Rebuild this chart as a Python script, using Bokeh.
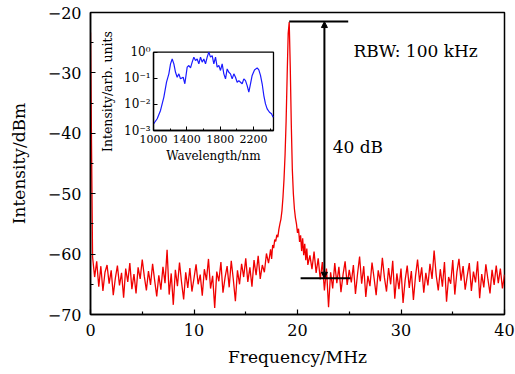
import numpy as np
from bokeh.plotting import figure
from bokeh.models import (Range1d, LinearAxis, LogAxis, LogScale, FixedTicker,
                          Arrow, NormalHead, Label)
from bokeh.embed import file_html
from bokeh.resources import INLINE

# ---------------- data ----------------
# RF spectrum, segment 1: 0.0 .. 17.2 MHz, step 0.2 MHz
rf_left_start, rf_left_step = 0.0, 0.2
rf_left_db = [
    -23.3, -60.5, -63.8, -61.2, -65.4, -62.0, -66.1, -63.0, -61.8, -64.9,
    -62.7, -66.8, -64.0, -61.9, -65.2, -63.1, -67.2, -62.4, -64.6, -61.5,
    -65.8, -63.3, -66.5, -62.2, -64.1, -60.9, -63.7, -66.0, -62.8, -65.1,
    -61.6, -64.4, -67.0, -63.5, -65.9, -62.1, -64.8, -59.3, -66.7, -63.2,
    -68.4, -62.6, -65.3, -61.4, -64.7, -67.5, -63.0, -65.6, -62.3, -66.2,
    -64.0, -61.7, -65.0, -63.4, -66.9, -62.5, -64.3, -60.8, -65.7, -63.6,
    -68.9, -62.9, -64.5, -61.3, -66.4, -63.9, -62.0, -65.5, -61.1, -64.2,
    -67.8, -62.7, -65.0, -61.6, -63.8, -60.7, -64.6, -62.2, -65.4, -61.0,
    -63.5, -60.3, -64.1, -61.8, -63.0, -59.9, -61.5,
]
# segment 2 (beat note peak): from 17.3 MHz, step 0.1 MHz
rf_peak_start, rf_peak_step = 17.3, 0.1
rf_peak_db = [
    -60.4, -59.2, -60.8, -58.5, -59.0, -57.6, -57.9, -56.8, -57.2, -55.9,
    -55.0, -54.2, -52.8, -50.5, -47.5, -43.5, -38.0, -30.5, -23.5, -21.6,
    -29.0, -38.5, -46.0, -50.0, -52.5, -54.0, -55.0, -56.5, -55.8, -58.0,
    -56.9, -59.5, -57.4, -60.2, -58.3, -61.0, -59.1, -61.8,
]
# segment 3: from 21.2 MHz to 40 MHz, step 0.2 MHz
rf_right_start, rf_right_step = 21.2, 0.2
rf_right_db = [
    -60.2, -62.5, -59.6, -63.1, -60.7, -64.2, -61.3, -66.0, -62.4, -68.8,
    -63.0, -65.7, -61.5, -64.8, -62.1, -66.3, -63.4, -61.2, -65.1, -62.6,
    -64.7, -61.8, -66.6, -63.3, -60.4, -64.9, -62.0, -67.1, -63.6, -65.3,
    -61.4, -64.0, -66.8, -62.7, -64.5, -60.6, -63.9, -66.2, -62.3, -65.0,
    -61.1, -67.4, -63.2, -65.8, -62.4, -68.1, -64.3, -61.9, -65.6, -62.8,
    -67.6, -63.7, -60.9, -64.6, -62.2, -66.4, -63.1, -65.2, -61.6, -64.1,
    -59.4, -63.5, -66.0, -62.5, -65.4, -61.3, -67.9, -63.8, -64.9, -61.0,
    -66.7, -63.0, -60.8, -64.4, -62.0, -65.9, -63.6, -61.5, -66.1, -62.9,
    -64.7, -61.2, -67.3, -63.3, -65.5, -61.7, -64.2, -66.5, -62.6, -65.1,
    -61.9, -64.8, -62.4, -65.7, -63.4,
]

# optical spectrum (inset): wavelength (nm) and log10(intensity)
spec_nm = [1000, 1044, 1084, 1124, 1156, 1184, 1204, 1224, 1244, 1264,
           1284, 1304, 1324, 1356, 1376, 1404, 1424, 1444, 1464, 1484,
           1504, 1524, 1544, 1564, 1584, 1604, 1624, 1644, 1664, 1684,
           1704, 1724, 1744, 1764, 1784, 1804, 1824, 1844, 1864, 1884,
           1904, 1924, 1944, 1964, 1984, 2004, 2024, 2044, 2064, 2084,
           2104, 2124, 2144, 2164, 2184, 2212, 2244, 2264, 2284, 2304,
           2324, 2344, 2364, 2392, 2416, 2436]
spec_log10 = [-2.75, -2.55, -2.23, -1.72, -1.15, -0.83, -0.45, -0.26, -0.45, -0.77,
              -0.96, -0.83, -1.02, -0.96, -1.21, -0.57, -0.51, -0.60, -0.38, -0.19,
              -0.32, -0.26, -0.45, -0.19, -0.38, -0.26, -0.45, -0.19, 0.00, -0.19,
              -0.13, -0.45, -0.19, -0.57, -0.51, -0.70, -0.45, -0.83, -1.02, -0.64,
              -0.77, -0.83, -1.02, -0.83, -0.96, -1.15, -1.09, -1.15, -1.21, -1.02,
              -1.09, -1.28, -1.53, -1.21, -0.89, -0.68, -0.60, -0.68, -0.89, -1.21,
              -1.66, -1.98, -2.17, -2.30, -2.36, -2.49]

x_ticks = [0, 10, 20, 30, 40]
x_minor = [5, 15, 25, 35]
y_ticks = [-70, -60, -50, -40, -30, -20]
y_minor = [-65, -55, -45, -35, -25]
inset_x_ticks = [1000, 1400, 1800, 2200]
inset_x_minor = [1200, 1600, 2000, 2400]
inset_y_ticks = [1e-3, 1e-2, 1e-1, 1e0]
inset_y_labels = ["10\u207b\u00b3", "10\u207b\u00b2", "10\u207b\u00b9", "10\u2070"]

peak_db = -21.5
floor_db = -64.0
rbw_text = "RBW: 100 kHz"
diff_text = "40 dB"

# ---------------- build series ----------------
f1 = rf_left_start + rf_left_step * np.arange(len(rf_left_db))
f2 = rf_peak_start + rf_peak_step * np.arange(len(rf_peak_db))
f3 = rf_right_start + rf_right_step * np.arange(len(rf_right_db))
freq = np.concatenate([f1, f2, f3])
power = np.concatenate([rf_left_db, rf_peak_db, rf_right_db])
spec = np.power(10.0, np.array(spec_log10))

FONT = "DejaVu Serif"

p = figure(width=515, height=374, output_backend="svg", toolbar_location=None,
           x_range=Range1d(0, 40), y_range=Range1d(-70, -20),
           x_axis_type=None, y_axis_type=None,
           min_border_left=90, min_border_right=11,
           min_border_top=12, min_border_bottom=60)
p.grid.visible = False
p.outline_line_color = "black"
p.outline_line_width = 1.5
p.background_fill_color = "white"
p.border_fill_color = "white"

def style_axis(ax, size_lab="16px", size_title="17px", tick_in=5, minor_in=3, lw=1.5):
    ax.axis_line_width = lw
    ax.major_tick_in = tick_in
    ax.major_tick_out = 0
    ax.minor_tick_in = minor_in
    ax.minor_tick_out = 0
    ax.major_tick_line_width = lw * 0.8
    ax.minor_tick_line_width = lw * 0.8
    ax.major_label_text_font = FONT
    ax.major_label_text_font_size = size_lab
    ax.major_label_text_color = "black"
    ax.axis_label_text_font = FONT
    ax.axis_label_text_font_size = size_title
    ax.axis_label_text_font_style = "normal"
    ax.axis_label_text_color = "black"

xaxis = LinearAxis(ticker=FixedTicker(ticks=x_ticks, minor_ticks=x_minor),
                   axis_label="Frequency/MHz")
xaxis.major_label_overrides = {t: str(t) for t in x_ticks}
style_axis(xaxis)
xaxis.major_label_standoff = 9
xaxis.axis_label_standoff = 8
p.add_layout(xaxis, "below")

yaxis = LinearAxis(ticker=FixedTicker(ticks=y_ticks, minor_ticks=y_minor),
                   axis_label="Intensity/dBm")
yaxis.major_label_overrides = {t: "\u2212" + str(abs(t)) for t in y_ticks}
style_axis(yaxis)
yaxis.major_label_standoff = 9
yaxis.axis_label_standoff = 16
p.add_layout(yaxis, "left")

# main trace
p.line(freq, power, line_color="#f00000", line_width=1.3)

# annotations
p.segment(x0=[19.2, 20.3], x1=[24.9, 25.1], y0=[peak_db, floor_db], y1=[peak_db, floor_db],
          line_color="black", line_width=2)
p.add_layout(Arrow(start=NormalHead(size=6, fill_color="black", line_color="black"),
                   end=NormalHead(size=6, fill_color="black", line_color="black"),
                   x_start=22.6, y_start=floor_db, x_end=22.6, y_end=peak_db,
                   line_color="black", line_width=2))
p.add_layout(Label(x=23.4, y=-42.3, text=diff_text, text_font=FONT, text_color="black",
                   text_font_size="17px", text_baseline="middle", text_align="left"))
p.add_layout(Label(x=25.4, y=-26.3, text=rbw_text, text_font=FONT, text_color="black",
                   text_font_size="17px", text_baseline="middle", text_align="left"))

# ---------------- inset ----------------
ix0, ix1 = 6.09, 17.68        # inset box in main x (MHz)
iy0, iy1 = -39.54, -26.57     # inset box in main y (dB)
wl0, wl1 = 1000.0, 2440.0
lg0, lg1 = -3.0, 0.0
kx = (wl1 - wl0) / (ix1 - ix0)
ix_start = wl0 - (ix0 - 0.0) * kx
ix_end = wl1 + (40.0 - ix1) * kx
ky = (lg1 - lg0) / (iy1 - iy0)
iy_start = 10 ** (lg0 - (iy0 - (-70.0)) * ky)
iy_end = 10 ** (lg1 + (-20.0 - iy1) * ky)

p.extra_x_ranges = {"ix": Range1d(ix_start, ix_end)}
p.extra_y_ranges = {"iy": Range1d(iy_start, iy_end)}
p.extra_y_scales = {"iy": LogScale()}

p.quad(left=[wl0], right=[wl1], bottom=[10 ** lg0], top=[10 ** lg1],
       x_range_name="ix", y_range_name="iy",
       fill_color="white", line_color="black", line_width=1.3)
p.line(spec_nm, spec, x_range_name="ix", y_range_name="iy",
       line_color="#1a1aff", line_width=1.2)

iax = LinearAxis(x_range_name="ix", y_range_name="iy",
                 ticker=FixedTicker(ticks=inset_x_ticks, minor_ticks=inset_x_minor),
                 axis_label="Wavelength/nm", fixed_location=10 ** lg0, bounds=(wl0, wl1))
iax.major_label_overrides = {t: str(t) for t in inset_x_ticks}
style_axis(iax, size_lab="11px", size_title="12px", tick_in=4, minor_in=2, lw=1.3)
iax.major_label_standoff = 4
iax.axis_label_standoff = 3
p.add_layout(iax, "below")

iay = LogAxis(x_range_name="ix", y_range_name="iy",
              ticker=FixedTicker(ticks=inset_y_ticks, minor_ticks=[]),
              axis_label="Intensity/arb. units", fixed_location=wl0, bounds=(10 ** lg0, 10 ** lg1))
iay.major_label_overrides = {t: s for t, s in zip(inset_y_ticks, inset_y_labels)}
style_axis(iay, size_lab="12px", size_title="12.5px", tick_in=4, minor_in=2, lw=1.3)
iay.major_label_standoff = 3
iay.axis_label_standoff = 6
p.add_layout(iay, "left")

open("out.html", "w").write(file_html(p, INLINE))
